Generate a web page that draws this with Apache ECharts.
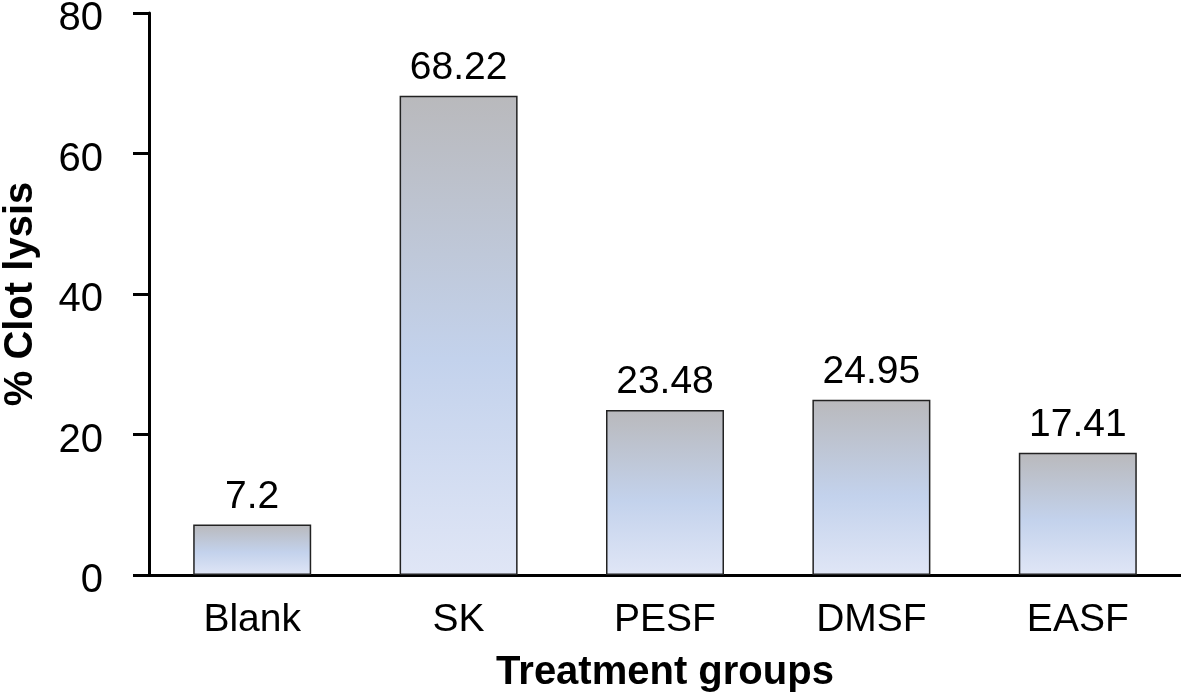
<!DOCTYPE html>
<html>
<head>
<meta charset="utf-8">
<script src="https://cdn.jsdelivr.net/npm/echarts@6/dist/echarts.min.js"></script>
<style>
html, body { margin: 0; padding: 0; background: #fff; }
#chart { width: 1181px; height: 697px; }
</style>
</head>
<body>
<div id="chart"></div>
<script>
// 数据
var groups = ['Blank', 'SK', 'PESF', 'DMSF', 'EASF'];
var lysis = [7.2, 68.22, 23.48, 24.95, 17.41];
var yTicks = [0, 20, 40, 60, 80];

var font = '"Liberation Sans", Arial, sans-serif';

// 柱子渐变
var barFill = new echarts.graphic.LinearGradient(0, 0, 0, 1, [
    { offset: 0, color: '#b9b9bc' },
    { offset: 0.55, color: '#c3d2ec' },
    { offset: 1, color: '#e0e6f6' }
]);

var myChart = echarts.init(document.getElementById('chart'));
var option = {
    animation: false,
    grid: { left: 149, right: 0, top: 13, bottom: 122, containLabel: false, outerBoundsMode: 'none' },
    xAxis: {
        type: 'category',
        data: groups,
        name: 'Treatment groups',
        nameLocation: 'middle',
        nameGap: 78,
        nameTextStyle: { fontFamily: font, fontSize: 40, fontWeight: 'bold', color: '#000' },
        axisLine: { lineStyle: { color: '#000', width: 3 } },
        axisTick: { show: false },
        axisLabel: { fontFamily: font, fontSize: 39, color: '#000', margin: 26 }
    },
    yAxis: {
        type: 'value',
        min: yTicks[0],
        max: yTicks[yTicks.length - 1],
        interval: 20,
        name: '% Clot lysis',
        nameLocation: 'middle',
        nameGap: 108,
        nameTextStyle: { fontFamily: font, fontSize: 40, fontWeight: 'bold', color: '#000' },
        axisLine: { show: true, lineStyle: { color: '#000', width: 3 } },
        axisTick: { show: true, length: 16, lineStyle: { color: '#000', width: 3 } },
        axisLabel: {
            margin: 46,
            formatter: '{t|{value}}',
            rich: {
                t: { fontFamily: font, fontSize: 40, color: '#000', padding: [12, 0, 0, 0] }
            }
        },
        splitLine: { show: false }
    },
    series: [{
        type: 'bar',
        data: lysis,
        barWidth: 118,
        itemStyle: { color: barFill, borderColor: '#222', borderWidth: 1.5 },
        label: {
            show: true,
            position: 'top',
            distance: 8,
            fontFamily: font,
            fontSize: 39,
            color: '#000'
        }
    }]
};
myChart.setOption(option);
window.onresize = function () {
    myChart.resize();
};
</script>
</body>
</html>
